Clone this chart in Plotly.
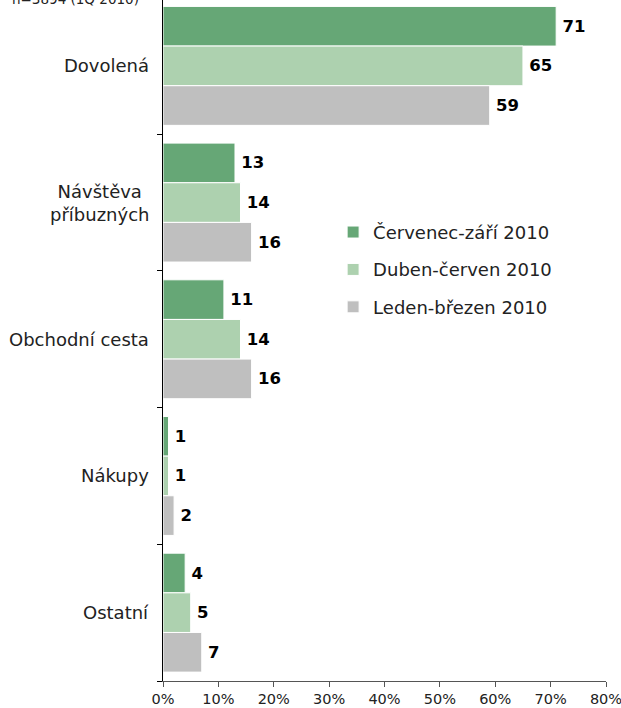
import plotly.graph_objects as go

categories = ["Dovolená", "Návštěva<br>příbuzných", "Obchodní cesta", "Nákupy", "Ostatní"]
q3_2010 = [71, 13, 11, 1, 4]   # Červenec-září 2010
q2_2010 = [65, 14, 14, 1, 5]   # Duben-červen 2010
q1_2010 = [59, 16, 16, 2, 7]   # Leden-březen 2010
x_ticks = [0, 10, 20, 30, 40, 50, 60, 70, 80]
x_tick_labels = ["0%", "10%", "20%", "30%", "40%", "50%", "60%", "70%", "80%"]
note = "n=3894 (1Q 2010)"

# drawn top-to-bottom inside each category group
series = [
    ("Červenec-září 2010", q3_2010, "#66A776"),
    ("Duben-červen 2010", q2_2010, "#ADD1AF"),
    ("Leden-březen 2010", q1_2010, "#BFBFBF"),
]

FONT = "DejaVu Sans, Verdana, sans-serif"
ypos = list(range(len(categories)))

fig = go.Figure()
for name, vals, color in series:
    fig.add_trace(go.Bar(
        y=ypos, x=vals, name=name, orientation="h",
        marker=dict(color=color, line=dict(color="white", width=1)),
        text=[str(v) for v in vals], texttemplate="\u2009%{text}", textposition="outside",
        textfont=dict(family="DejaVu Sans", size=16.5, color="black", weight="bold"),
        cliponaxis=False, legendgroup=name,
    ))

# category labels, right-aligned block with centred lines
for i, c in enumerate(categories):
    fig.add_annotation(x=0, xref="paper", xanchor="right", xshift=-12,
                       y=i, yref="y", text=c, showarrow=False, align="center",
                       font=dict(family=FONT, size=18, color="#222"))

# sample-size note, partly above the top edge of the page
fig.add_annotation(x=0, xref="paper", xanchor="right", xshift=-22,
                   y=1, yref="paper", yanchor="middle", yshift=1,
                   text=note, showarrow=False,
                   font=dict(family=FONT, size=13.5, color="#222"))

fig.update_layout(
    width=621, height=708,
    margin=dict(l=163, r=15, t=0, b=27),
    barmode="group", bargap=0.13, bargroupgap=0,
    plot_bgcolor="white", paper_bgcolor="white",
    font=dict(family=FONT, size=13, color="#222"),
    showlegend=True,
    legend=dict(x=0.384, y=0.686, xanchor="left", yanchor="top",
                traceorder="grouped", tracegroupgap=11,
                font=dict(family=FONT, size=18, color="#222"),
                itemwidth=30, bgcolor="rgba(0,0,0,0)"),
    xaxis=dict(range=[0, 80], tickvals=x_ticks, ticktext=x_tick_labels,
               showgrid=False, zeroline=False, showline=True,
               linecolor="#555", linewidth=1, ticks="outside",
               ticklen=5, tickcolor="#555", ticklabeloverflow="allow",
               tickfont=dict(family=FONT, size=14.5, color="#222")),
    yaxis=dict(range=[4.5, -0.482], tickvals=[0.5, 1.5, 2.5, 3.5, 4.5],
               showticklabels=False, showgrid=False, zeroline=False,
               showline=True, linecolor="black", linewidth=1,
               ticks="outside", ticklen=5, tickcolor="black"),
)

fig.write_html("out.html")
